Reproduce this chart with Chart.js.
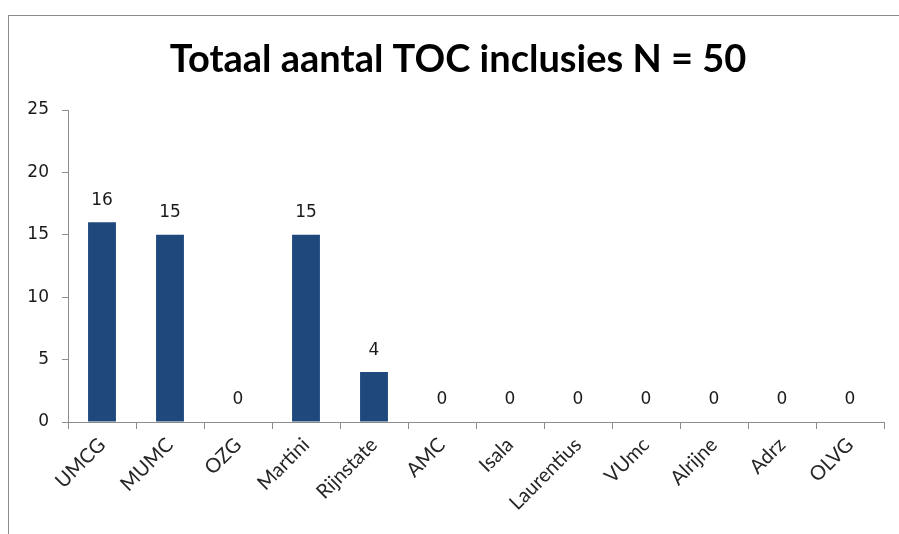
<!DOCTYPE html>
<html>
<head>
<meta charset="utf-8">
<script src="https://cdn.jsdelivr.net/npm/chart.js@4/dist/chart.umd.min.js"></script>
<style>
  html, body { margin: 0; padding: 0; background: #fff; }
  #wrap { width: 899px; height: 534px; }
</style>
</head>
<body>
<div id="wrap"><canvas id="toc"></canvas></div>
<script>
const ziekenhuizen = ['UMCG', 'MUMC', 'OZG', 'Martini', 'Rijnstate', 'AMC', 'Isala', 'Laurentius', 'VUmc', 'Alrijne', 'Adrz', 'OLVG'];
const inclusies = [16, 15, 0, 15, 4, 0, 0, 0, 0, 0, 0, 0];
const yTicks = [0, 5, 10, 15, 20, 25];
const titel = 'Totaal aantal TOC inclusies N = 50';

// border, title and value labels
const extras = {
    id: 'extras',
    beforeDraw(chart) {
        const ctx = chart.ctx;
        ctx.save();
        ctx.strokeStyle = '#8c8c8c';
        ctx.lineWidth = 1;
        ctx.strokeRect(8.5, 15.5, 1000, 1000);
        ctx.fillStyle = '#000';
        ctx.font = 'bold 38px Lato';
        ctx.textAlign = 'center';
        ctx.textBaseline = 'middle';
        ctx.fillText(titel, 458, 60);
        ctx.restore();
    },
    afterDatasetsDraw(chart) {
        const ctx = chart.ctx;
        const meta = chart.getDatasetMeta(0);
        ctx.save();
        ctx.fillStyle = '#1a1a1a';
        ctx.font = '17px "DejaVu Sans"';
        ctx.textAlign = 'center';
        ctx.textBaseline = 'middle';
        meta.data.forEach(function(bar, i) {
            ctx.fillText(inclusies[i], bar.x, bar.y - 22);
        });
        ctx.restore();
    }
};

var chart = new Chart(document.getElementById('toc').getContext('2d'), {
    type: 'bar',
    data: {
        labels: ziekenhuizen,
        datasets: [{
            data: inclusies,
            backgroundColor: '#1f497d',
            barPercentage: 0.5,
            categoryPercentage: 0.82
        }]
    },
    options: {
        responsive: true,
        maintainAspectRatio: false,
        animation: false,
        layout: { padding: { top: 110, right: 15, left: 0, bottom: 0 } },
        plugins: { legend: { display: false }, tooltip: { enabled: false } },
        scales: {
            y: {
                min: 0,
                max: 25,
                afterBuildTicks(scale) { scale.ticks = yTicks.map(v => ({ value: v })); },
                afterFit(scale) { scale.width = 68; },
                border: { color: '#8c8c8c', width: 1 },
                grid: { drawOnChartArea: false, tickLength: 6, tickColor: '#8c8c8c' },
                ticks: { color: '#1a1a1a', padding: 13, font: { family: 'DejaVu Sans', size: 17 } }
            },
            x: {
                afterFit(scale) { scale.height = 112; },
                border: { color: '#8c8c8c', width: 1 },
                grid: { drawOnChartArea: false, offset: true, tickLength: 7, tickColor: '#8c8c8c' },
                ticks: { color: '#262626', minRotation: 45, maxRotation: 45, padding: 4, font: { family: 'Lato', size: 20 } }
            }
        }
    },
    plugins: [extras]
});
</script>
</body>
</html>
